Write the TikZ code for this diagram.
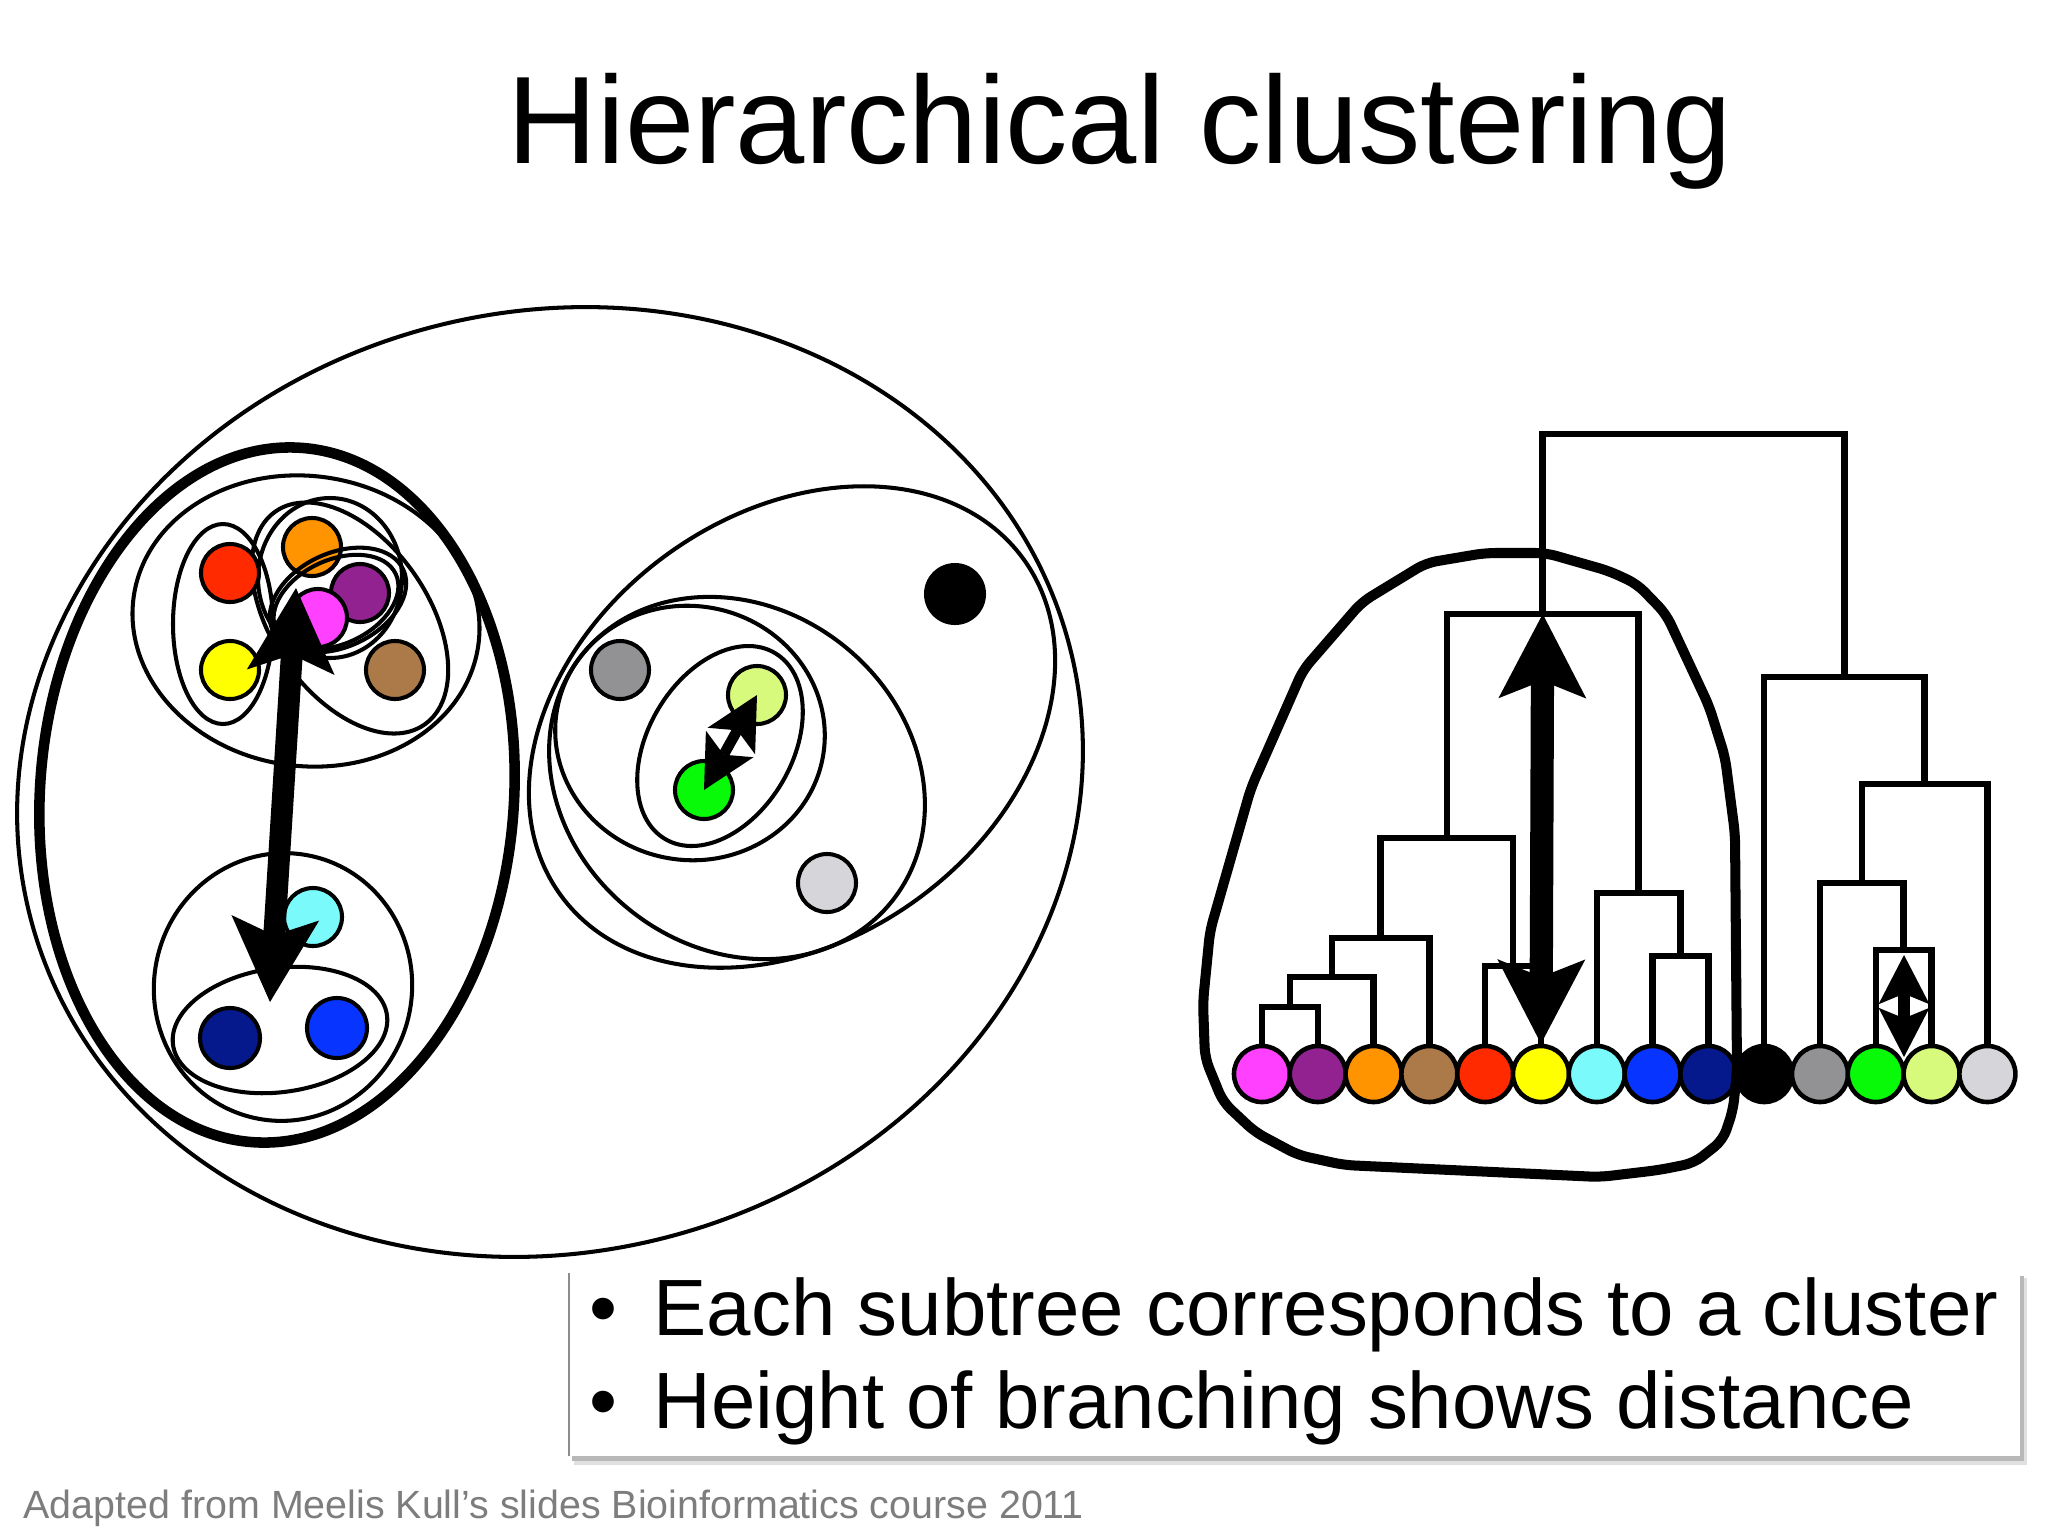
\documentclass[tikz,border=0pt]{standalone}
\usepackage{fontspec}
\setmainfont{Liberation Sans}
\usetikzlibrary{arrows.meta}
\definecolor{cRed}{RGB}{255,42,0}
\definecolor{cOrange}{RGB}{255,148,0}
\definecolor{cPurple}{RGB}{147,34,145}
\definecolor{cPink}{RGB}{255,64,255}
\definecolor{cYellow}{RGB}{255,255,0}
\definecolor{cBrown}{RGB}{172,122,72}
\definecolor{cCyan}{RGB}{122,250,250}
\definecolor{cDBlue}{RGB}{5,25,140}
\definecolor{cBlue}{RGB}{8,52,255}
\definecolor{cGray}{RGB}{146,146,148}
\definecolor{cGreen}{RGB}{8,250,8}
\definecolor{cLGreen}{RGB}{215,250,125}
\definecolor{cLGray}{RGB}{214,214,218}
\definecolor{footgray}{RGB}{125,125,125}
\tikzset{
  tipBig/.tip={Stealth[length=24pt,width=25pt,inset=5pt,line width=0pt]},
  tipMid/.tip={Stealth[length=15pt,width=15.5pt,inset=3.5pt,line width=0pt]},
  tipSmall/.tip={Stealth[length=14pt,width=14.5pt,inset=3pt,line width=0pt]},
}
\begin{document}
\begin{tikzpicture}[x=0.01cm,y=-0.01cm,
  ring/.style={draw=black, line width=1.15pt},
  thickring/.style={draw=black, line width=3pt},
  dot/.style={circle, draw=black, line width=1.15pt, minimum size=0.58cm, inner sep=0pt},
  bigdot/.style={circle, fill=black, minimum size=0.62cm, inner sep=0pt},
  leaf/.style={circle, draw=black, line width=1.3pt, minimum size=0.56cm, inner sep=0pt},
  dend/.style={draw=black, line width=1.85pt, line join=miter, line cap=rect},
  hull/.style={draw=black, line width=2.85pt, line join=round, rounded corners=3pt},
  bigarr/.style={line width=6.2pt, tipBig-tipBig},
  dendarr/.style={line width=6.6pt, tipBig-tipBig},
  midarr/.style={line width=3pt, tipMid-tipMid},
  smallarr/.style={line width=3.4pt, tipSmall-tipSmall},
  bullettext/.style={anchor=base west, inner sep=0pt, font=\fontsize{22.7}{27}\selectfont},
  bulletdot/.style={anchor=base, inner sep=0pt, font=\fontsize{22.7}{27}\selectfont},
]
\useasboundingbox (0,0) rectangle (2048,1536);
\fill[white] (0,0) rectangle (2048,1536);

% ---------- title ----------
\node[anchor=base, inner sep=0pt, font=\fontsize{35.4}{42}\selectfont] (title) at (1120,163) {Hierarchical clustering};

% ---------- left diagram: rings ----------
\draw[ring, rotate around={15:(550,782)}] (550,782) ellipse [x radius=537, y radius=470];
\draw[thickring, rotate around={-4:(277,795)}] (277,795) ellipse [x radius=237, y radius=348];
% upper group
\draw[ring, rotate around={-8:(306,621)}] (306,621) ellipse [x radius=174, y radius=145];
\draw[ring] (223,624) ellipse [x radius=50, y radius=100];
\draw[ring, rotate around={-55:(350,618)}] (350,618) ellipse [x radius=130, y radius=78];
\draw[ring] (330,578) ellipse [x radius=72, y radius=80];
% lower group
\draw[ring, rotate around={-10:(283,987)}] (283,987) ellipse [x radius=129, y radius=134];
\draw[ring, rotate around={8:(280,1030)}] (280,1030) ellipse [x radius=108, y radius=62];
% right group
\draw[ring, rotate around={36:(792,727)}] (792,727) ellipse [x radius=286, y radius=213];
\draw[ring, rotate around={-38:(737,778)}] (737,778) ellipse [x radius=198, y radius=170];
\draw[ring, rotate around={-10:(690,733)}] (690,733) ellipse [x radius=135, y radius=127];
\draw[ring, rotate around={59.5:(720,746)}] (720,746) ellipse [x radius=108, y radius=72];

% ---------- left diagram: dots ----------
\node[dot, fill=cRed] (ured) at (230,573) {};
\node[dot, fill=cOrange] (uorange) at (312,547) {};
\node[dot, fill=cPurple] (upurple) at (360,593) {};
\node[dot, fill=cPink] (upink) at (318,618) {};
\node[dot, fill=cYellow] (uyellow) at (230,670) {};
\node[dot, fill=cBrown] (ubrown) at (395,670) {};
\node[dot, fill=cCyan] (ucyan) at (313,917) {};
\node[dot, fill=cDBlue, minimum size=0.6cm] (udblue) at (230,1038) {};
\node[dot, fill=cBlue, minimum size=0.6cm] (ublue) at (337,1028) {};
\node[bigdot] (ublack) at (955,594) {};
\node[dot, fill=cGray] (ugray) at (620,670) {};
\node[dot, fill=cLGreen] (ulgreen) at (757,695) {};
\node[dot, fill=cGreen] (ugreen) at (704,790) {};
\node[dot, fill=cLGray] (ulgray) at (827,883) {};

% rings crossing over dots (pink + purple)
\draw[ring, rotate around={25:(336,602)}] (336,602) ellipse [x radius=66, y radius=42];
\draw[ring, rotate around={25:(338,600)}] (338,600) ellipse [x radius=72, y radius=47];

% ---------- left diagram: arrows ----------
\coordinate (bigTop) at (296,588);
\coordinate (bigBot) at (270,1002);
\draw[bigarr] (bigBot) -- (bigTop);
\draw[midarr] (ugreen.center) -- (ulgreen.center);

% ---------- dendrogram ----------
\node[leaf, fill=cPink] (pinkL) at (1262.0,1074) {};
\node[leaf, fill=cPurple] (purpleL) at (1317.8,1074) {};
\node[leaf, fill=cOrange] (orangeL) at (1373.6,1074) {};
\node[leaf, fill=cBrown] (brownL) at (1429.4,1074) {};
\node[leaf, fill=cRed] (redL) at (1485.2,1074) {};
\node[leaf, fill=cYellow] (yellowL) at (1541.0,1074) {};
\node[leaf, fill=cCyan] (cyanL) at (1596.8,1074) {};
\node[leaf, fill=cBlue] (blueL) at (1652.6,1074) {};
\node[leaf, fill=cDBlue] (dblueL) at (1708.4,1074) {};
\node[leaf, fill=black] (blackL) at (1764.2,1074) {};
\node[leaf, fill=cGray] (grayL) at (1820.0,1074) {};
\node[leaf, fill=cGreen] (greenL) at (1875.8,1074) {};
\node[leaf, fill=cLGreen] (lgreenL) at (1931.6,1074) {};
\node[leaf, fill=cLGray] (lgrayL) at (1987.4,1074) {};

\coordinate (n12) at (1289.9,1007);
\coordinate (n123) at (1331.75,977);
\coordinate (n1234) at (1380.6,938);
\coordinate (n56) at (1513.1,966);
\coordinate (nA) at (1446.8,838);
\coordinate (n89) at (1680.5,956);
\coordinate (n789) at (1638.7,893);
\coordinate (nL) at (1542.7,614);
\coordinate (n1213) at (1903.7,950);
\coordinate (n1113) at (1861.9,883);
\coordinate (n1114) at (1924.6,784);
\coordinate (nR) at (1844.4,677);
\coordinate (root) at (1693.6,434);

\draw[dend] (pinkL.north) |- (n12) -| (purpleL.north);
\draw[dend] (n12) |- (n123) -| (orangeL.north);
\draw[dend] (n123) |- (n1234) -| (brownL.north);
\draw[dend] (redL.north) |- (n56) -| (yellowL.north);
\draw[dend] (n1234) |- (nA) -| (n56);
\draw[dend] (blueL.north) |- (n89) -| (dblueL.north);
\draw[dend] (cyanL.north) |- (n789) -| (n89);
\draw[dend] (nA) |- (nL) -| (n789);
\draw[dend] (greenL.north) |- (n1213) -| (lgreenL.north);
\draw[dend] (grayL.north) |- (n1113) -| (n1213);
\draw[dend] (n1113) |- (n1114) -| (lgrayL.north);
\draw[dend] (blackL.north) |- (nR) -| (n1114);
\draw[dend] (nL) |- (root) -| (nR);

% hull of the left subtree
\draw[hull] (1426,563) -- (1485,553) -- (1546,553) -- (1609,571) -- (1637,584)
  -- (1666,614) -- (1709,706) -- (1725,757) -- (1735,834) -- (1737,1071)
  -- (1733,1110) -- (1723,1140) -- (1694,1163) -- (1659,1170) -- (1600,1177)
  -- (1344,1165) -- (1298,1155) -- (1255,1132) -- (1223,1102) -- (1205,1058)
  -- (1203,1002) -- (1210,931) -- (1251,788) -- (1303,670) -- (1362,602) -- cycle;

% distance arrows in the dendrogram
\draw[dendarr] (nL) -- (yellowL.north);
\coordinate (sTop) at (1904,955);
\coordinate (sBot) at (1904,1057);
\draw[smallarr] (sTop) -- (sBot);

% ---------- text box ----------
\fill[black!12] (574,1278) rectangle (2027,1465);
\fill[black!28] (572,1276) rectangle (2024,1461);
\fill[white] (569,1273) rectangle (2020,1456);
\draw[black!45, line width=0.7pt] (569,1273) -- (569,1456);
\node[bulletdot] (b1) at (603,1335) {•};
\node[bullettext] (t1) at (653,1335) {Each subtree corresponds to a cluster};
\node[bulletdot] (b2) at (603,1428) {•};
\node[bullettext] (t2) at (653,1428) {Height of branching shows distance};

% ---------- footer ----------
\node[anchor=base west, inner sep=0pt, text=footgray, font=\fontsize{11.2}{14}\selectfont] (foot) at (23,1518) {Adapted from Meelis Kull’s slides Bioinformatics course 2011};
\end{tikzpicture}
\end{document}
